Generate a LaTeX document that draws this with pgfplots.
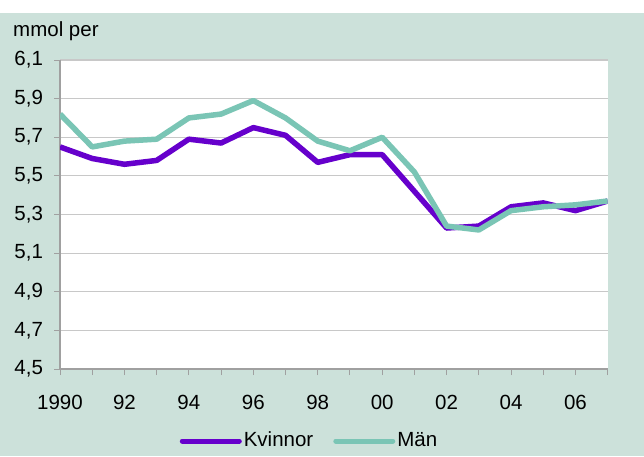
\documentclass[border=0pt]{standalone}
\usepackage{pgfplots}
\pgfplotsset{compat=1.18}
\usepackage{fontspec}
\setmainfont{Liberation Sans}
\definecolor{bgc}{RGB}{204,225,218}
\definecolor{kv}{RGB}{102,0,204}
\definecolor{man}{RGB}{122,197,181}
\definecolor{gridc}{RGB}{200,200,200}
\definecolor{axc}{RGB}{160,160,160}
\begin{document}
\fontsize{20.5}{24}\selectfont
\begin{tikzpicture}[x=1pt,y=1pt]
\useasboundingbox (0,0) rectangle (644,456);
\fill[white] (0,0) rectangle (644,456);
\fill[bgc] (0,0) rectangle (644,443);
\node[anchor=base west, inner sep=0] at (13,419) {mmol per};
\begin{axis}[
  at={(60pt,87pt)}, anchor=south west,
  scale only axis, width=547.7pt, height=309pt,
  xmin=1990, xmax=2007, ymin=4.5, ymax=6.1,
  axis background/.style={fill=white},
  axis lines*=left,
  axis line style={axc, line width=1.2pt},
  xtick={1990,1992,1994,1996,1998,2000,2002,2004,2006},
  xticklabels={1990,92,94,96,98,00,02,04,06},
  minor xtick={1991,1993,1995,1997,1999,2001,2003,2005,2007},
  ytick={4.5,4.7,4.9,5.1,5.3,5.5,5.7,5.9,6.1},
  yticklabels={{4,5},{4,7},{4,9},{5,1},{5,3},{5,5},{5,7},{5,9},{6,1}},
  tick align=outside,
  major tick length=6pt, minor tick length=6pt,
  every tick/.style={axc, line width=1pt},
  ymajorgrids,
  major grid style={gridc, line width=1.2pt},
  yticklabel style={xshift=-4pt},
  xticklabel style={yshift=-13pt},
  legend style={at={(0.4555,-0.233)}, anchor=center, draw=none, fill=none,
    legend columns=2, inner sep=0pt,
    /tikz/every even column/.append style={column sep=18pt},
    nodes={inner xsep=2pt}},
  legend image code/.code={\draw[#1, line width=5pt, line cap=round] (0pt,0pt) -- (57pt,0pt);},
]
\addplot[kv, line width=5.5pt, line join=round] coordinates {
(1990,5.65) (1991,5.59) (1992,5.56) (1993,5.58) (1994,5.69) (1995,5.67)
(1996,5.75) (1997,5.71) (1998,5.57) (1999,5.61) (2000,5.61) (2001,5.42)
(2002,5.23) (2003,5.24) (2004,5.34) (2005,5.36) (2006,5.32) (2007,5.37)};
\addlegendentry{Kvinnor}
\addplot[man, line width=5.5pt, line join=round] coordinates {
(1990,5.82) (1991,5.65) (1992,5.68) (1993,5.69) (1994,5.80) (1995,5.82)
(1996,5.89) (1997,5.80) (1998,5.68) (1999,5.63) (2000,5.70) (2001,5.52)
(2002,5.24) (2003,5.22) (2004,5.32) (2005,5.34) (2006,5.35) (2007,5.37)};
\addlegendentry{Män}
\end{axis}
\end{tikzpicture}
\end{document}
